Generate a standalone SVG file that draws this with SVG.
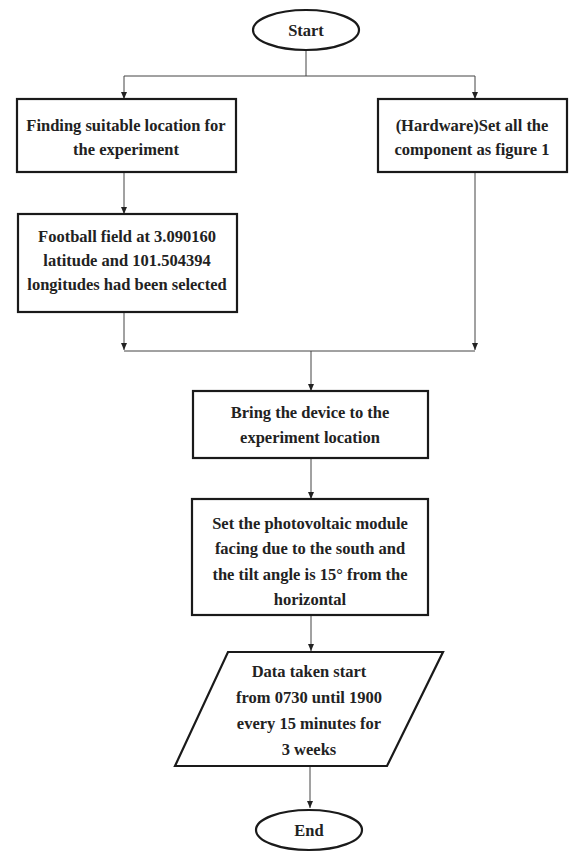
<svg xmlns="http://www.w3.org/2000/svg" width="572" height="852" viewBox="0 0 572 852">
<defs>
<marker id="arr" markerWidth="8" markerHeight="8" refX="7" refY="4" orient="auto" markerUnits="userSpaceOnUse" viewBox="0 0 8 8">
<path d="M0,1 L7,4 L0,7 Z" fill="#222"/>
</marker>
<style>
.shape{fill:#fff;stroke:#1a1a1a;stroke-width:2.2}
.conn{fill:none;stroke:#444;stroke-width:1}
.t{font-family:"Liberation Serif","Times New Roman",serif;font-weight:bold;font-size:16.5px;fill:#222;text-anchor:middle}
</style>
</defs>
<rect width="572" height="852" fill="#fff"/>
<g id="connectors">
<path class="conn" d="M306,50 V76 M124,76 H475"/>
<path class="conn" d="M124,76 V99" marker-end="url(#arr)"/>
<path class="conn" d="M475,76 V99" marker-end="url(#arr)"/>
<path class="conn" d="M124,172 V214" marker-end="url(#arr)"/>
<path class="conn" d="M124,312 V350" marker-end="url(#arr)"/>
<path class="conn" d="M475,172 V350" marker-end="url(#arr)"/>
<path class="conn" d="M124,351 H475"/>
<path class="conn" d="M311,351 V391" marker-end="url(#arr)"/>
<path class="conn" d="M311,458 V499" marker-end="url(#arr)"/>
<path class="conn" d="M311,615 V651" marker-end="url(#arr)"/>
<path class="conn" d="M310,766 V808" marker-end="url(#arr)"/>
</g>
<g id="start">
<ellipse class="shape" cx="306" cy="30" rx="53" ry="20"/>
<text class="t" x="306" y="36">Start</text>
</g>
<g id="find-location">
<rect class="shape" x="17" y="99" width="219" height="73"/>
<text class="t" x="126" y="131">Finding suitable location for</text>
<text class="t" x="126" y="155">the experiment</text>
</g>
<g id="hardware">
<rect class="shape" x="378" y="99" width="189" height="73"/>
<text class="t" x="472" y="131">(Hardware)Set all the</text>
<text class="t" x="472" y="155">component as figure 1</text>
</g>
<g id="football-field">
<rect class="shape" x="18" y="214" width="219" height="98"/>
<text class="t" x="127" y="242">Football field at 3.090160</text>
<text class="t" x="127" y="266">latitude and 101.504394</text>
<text class="t" x="127" y="290">longitudes had been selected</text>
</g>
<g id="bring-device">
<rect class="shape" x="193" y="391" width="235" height="67"/>
<text class="t" x="310" y="418">Bring the device to the</text>
<text class="t" x="310" y="443">experiment location</text>
</g>
<g id="set-pv">
<rect class="shape" x="192" y="499" width="236" height="116"/>
<text class="t" x="310" y="529">Set the photovoltaic module</text>
<text class="t" x="310" y="554">facing due to the south and</text>
<text class="t" x="310" y="580">the tilt angle is 15° from the</text>
<text class="t" x="310" y="605">horizontal</text>
</g>
<g id="data">
<polygon class="shape" points="228,652 443,652 387,766 175,766"/>
<text class="t" x="309" y="677">Data taken start</text>
<text class="t" x="309" y="703">from 0730 until 1900</text>
<text class="t" x="309" y="729">every 15 minutes for</text>
<text class="t" x="309" y="755">3 weeks</text>
</g>
<g id="end">
<ellipse class="shape" cx="309" cy="830" rx="53" ry="20"/>
<text class="t" x="309" y="836">End</text>
</g>
</svg>
